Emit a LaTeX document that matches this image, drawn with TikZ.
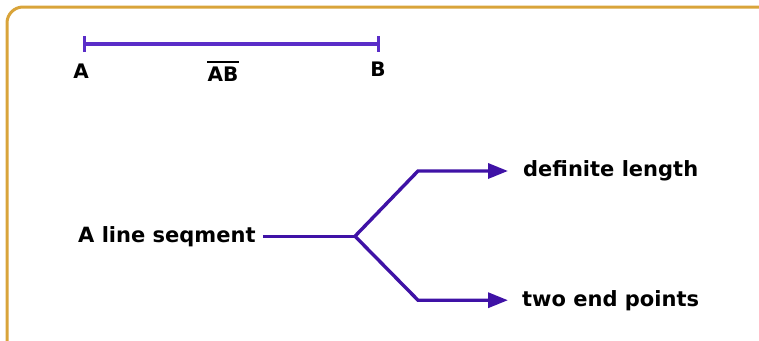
\documentclass[tikz,border=0pt]{standalone}
\usepackage{fontspec}
\setmainfont{DejaVu Sans}
\usetikzlibrary{arrows.meta,positioning}
\definecolor{framecol}{HTML}{D9A43A}
\definecolor{segcol}{HTML}{5A2DC8}
\definecolor{branchcol}{HTML}{3F12A6}
\begin{document}
\begin{tikzpicture}[x=1pt,y=-1pt,
  lbl/.style={font=\bfseries\fontsize{20}{20}\selectfont,text=black,inner sep=0pt},
  txt/.style={font=\bfseries\fontsize{21}{21}\selectfont,text=black,inner sep=0pt,anchor=base west},
  branch/.style={draw=branchcol,line width=3.4pt},
  arr/.style={branch,-{Triangle[length=20pt,width=15pt]}}]
\useasboundingbox (0,0) rectangle (759,340);
\clip (0,0) rectangle (759,340);
% frame
\draw[framecol,line width=3pt,rounded corners=16pt] (7,7) rectangle (790,365);
% segment AB
\coordinate (A) at (83,44);
\coordinate (B) at (380,44);
\draw[segcol,line width=3.4pt,{Bar[width=16pt]}-{Bar[width=16pt]}] (A) -- (B);
\node[lbl] (a) at (81,71.5) {A};
\node[lbl] (ab) at (223,74.5) {AB};
\draw[line width=2pt] ([yshift=5pt]ab.north west) -- ([yshift=5pt]ab.north east);
\node[lbl] (b) at (378,69.5) {B};
% fork
\node[txt] (lineseg) at (78,242) {A line seqment};
\node[txt] (defl) at (523,176.7) {definite length};
\node[txt] (ends) at (522,306) {two end points};
\coordinate (forkx) at (355,0);
\coordinate (fork) at (forkx |- lineseg.east);
\draw[branch] ([xshift=7pt]lineseg.east) -- (fork);
\draw[arr] (fork) -- ([xshift=-105pt]defl.west) -- ([xshift=-15pt]defl.west);
\draw[arr] (fork) -- ([xshift=-104pt]ends.west) -- ([xshift=-14pt]ends.west);
\end{tikzpicture}
\end{document}
